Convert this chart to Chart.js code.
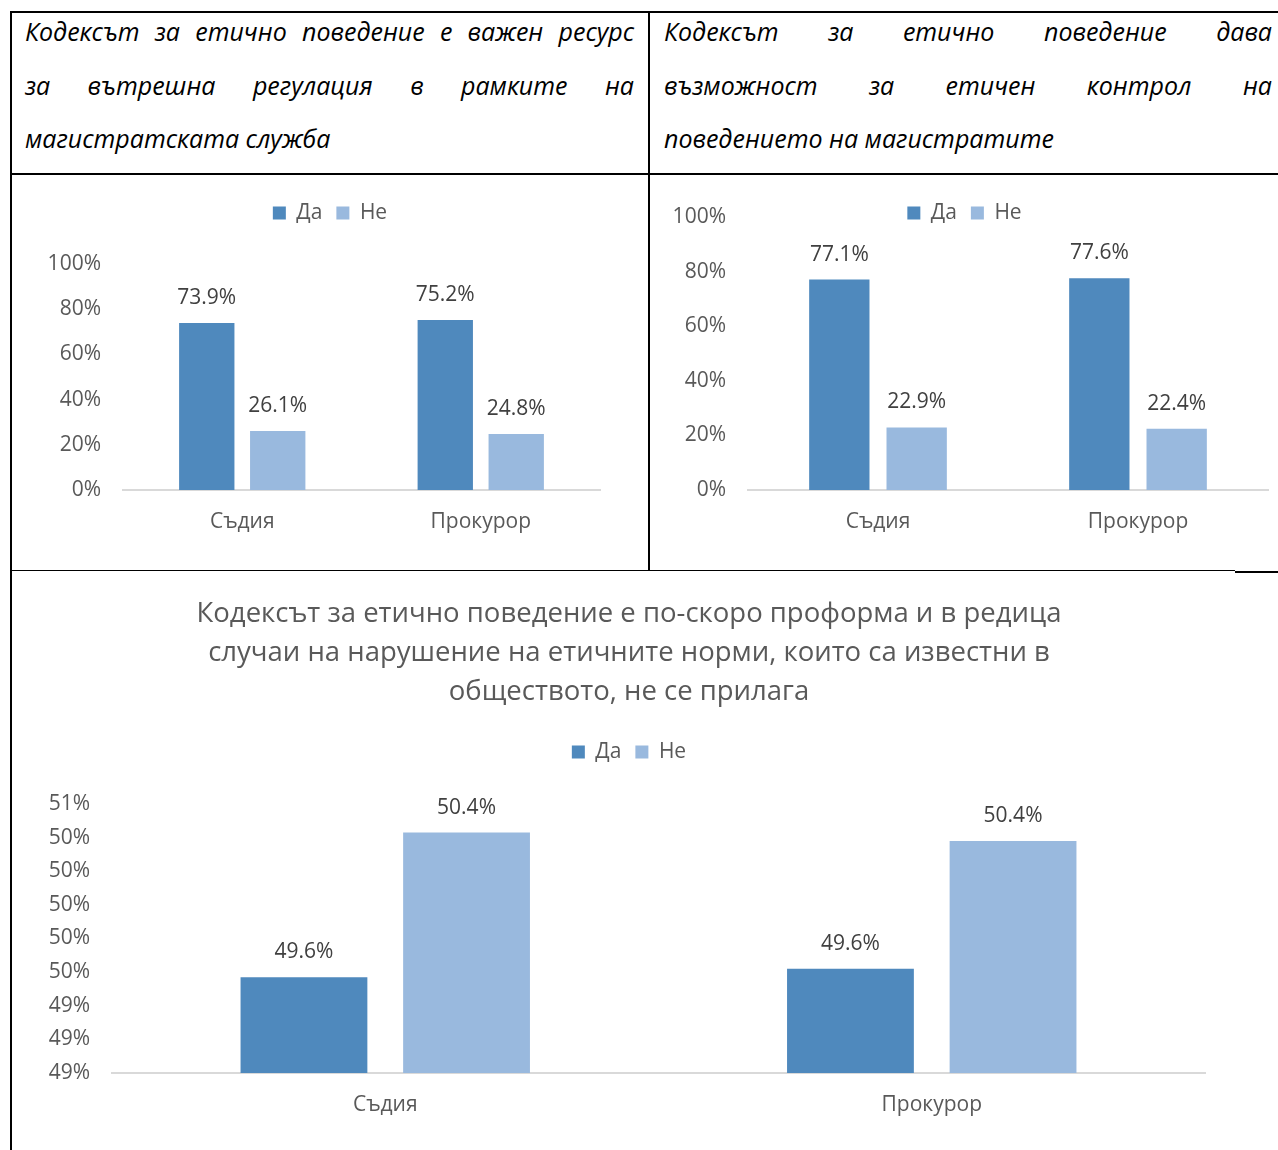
<!DOCTYPE html>
<html lang="bg">
<head>
<meta charset="utf-8">
<title>Кодекс за етично поведение</title>
<script src="https://cdn.jsdelivr.net/npm/chart.js@4.4.1/dist/chart.umd.min.js"></script>
<style>
  html, body { margin: 0; padding: 0; background: #fff; }
  body { width: 1278px; height: 1150px; position: relative; overflow: hidden; font-family: 'Open Sans', sans-serif; }
  .rule { position: absolute; background: #000; z-index: 2; }
  .head { position: absolute; top: 16px; width: 609px; font-style: italic; font-size: 25px; color: #000; }
  .head div { height: 53.5px; line-height: 30px; white-space: nowrap; }
  .head div.j { text-align: justify; text-align-last: justify; }
  .box { position: absolute; }
</style>
</head>
<body>

<div class="head" id="head1" style="left: 25px;"></div>
<div class="head" id="head2" style="left: 664px; width: 608px;"></div>

<div class="box" style="left: 12px; top: 175px; width: 636px; height: 395px;"><canvas id="resourceChart"></canvas></div>
<div class="box" style="left: 651px; top: 175px; width: 627px; height: 395px;"><canvas id="controlChart"></canvas></div>
<div class="box" style="left: 12px; top: 573px; width: 1234px; height: 577px;"><canvas id="proformaChart"></canvas></div>

<!-- table borders -->
<div class="rule" style="left: 10px; top: 11px; width: 1268px; height: 2px;"></div>
<div class="rule" style="left: 10px; top: 11px; width: 2px; height: 1139px;"></div>
<div class="rule" style="left: 648px; top: 11px; width: 2px; height: 560px;"></div>
<div class="rule" style="left: 10px; top: 173px; width: 1268px; height: 2px;"></div>
<div class="rule" style="left: 10px; top: 570px; width: 1225px; height: 1px;"></div>
<div class="rule" style="left: 1235px; top: 571px; width: 43px; height: 2px;"></div>

<script>
const categories = ['Съдия', 'Прокурор'];
const seriesNames = ['Да', 'Не'];

// Кодексът ... важен ресурс за вътрешна регулация
const resourceYes = [73.9, 75.2];
const resourceNo = [26.1, 24.8];

// Кодексът ... дава възможност за етичен контрол
const controlYes = [77.1, 77.6];
const controlNo = [22.9, 22.4];

// Кодексът ... е по-скоро проформа
const proformaYes = [49.57, 49.62];
const proformaNo = [50.43, 50.38];

const percentTicks = [0, 20, 40, 60, 80, 100];
const proformaTicks = [49.0, 49.2, 49.4, 49.6, 49.8, 50.0, 50.2, 50.4, 50.6];

const headLines1 = ['Кодексът за етично поведение е важен ресурс', 'за вътрешна регулация в рамките на', 'магистратската служба'];
const headLines2 = ['Кодексът за етично поведение дава', 'възможност за етичен контрол на', 'поведението на магистратите'];
const proformaTitle = [
  'Кодексът за етично поведение е по-скоро проформа и в редица',
  'случаи на нарушение на етичните норми, които са известни в',
  'обществото, не се прилага'
];

const yesColor = '#4f89bd';
const noColor = '#99b9de';

// header cells
function fillHead(id, lines) {
  const el = document.getElementById(id);
  lines.forEach((line, i) => {
    const d = document.createElement('div');
    d.textContent = line;
    if (i < lines.length - 1) d.className = 'j';
    el.appendChild(d);
  });
}
fillHead('head1', headLines1);
fillHead('head2', headLines2);

Chart.defaults.font.family = "'Open Sans', sans-serif";
Chart.defaults.color = '#595959';

// value labels above the bars
const barValueLabels = {
  id: 'barValueLabels',
  afterDatasetsDraw(chart) {
    const ctx = chart.ctx;
    ctx.save();
    ctx.font = "21px 'Open Sans', sans-serif";
    ctx.fillStyle = '#404040';
    ctx.textAlign = 'center';
    ctx.textBaseline = 'middle';
    chart.data.datasets.forEach((ds, i) => {
      chart.getDatasetMeta(i).data.forEach((bar, j) => {
        ctx.fillText(ds.data[j].toFixed(1) + '%', bar.x, bar.y - 25);
      });
    });
    ctx.restore();
  }
};

// fixed layout height for the legend box (like afterFit for scales),
// while still letting it draw its full row
function legendSpace(height) {
  return {
    id: 'legendSpace',
    afterInit(chart) {
      const fit = chart.legend.fit;
      chart.legend.fit = function() {
        fit.call(this);
        this._fullHeight = this.height;
        this.height = height;
      };
    },
    afterLayout(chart) {
      const lg = chart.legend;
      lg.bottom = lg.top + Math.max(lg.height, lg._fullHeight || 0);
    }
  };
}

function makeChart(id, yes, no, opt) {
  const ticks = opt.ticks;
  return new Chart(document.getElementById(id), {
    type: 'bar',
    data: {
      labels: categories,
      datasets: [
        { label: seriesNames[0], data: yes, backgroundColor: yesColor },
        { label: seriesNames[1], data: no, backgroundColor: noColor }
      ]
    },
    options: {
      responsive: true,
      maintainAspectRatio: false,
      animation: false,
      layout: { padding: { top: opt.padTop, right: 0, left: 0, bottom: 0 } },
      datasets: { bar: { categoryPercentage: 0.595, barPercentage: 0.78 } },
      scales: {
        x: {
          grid: { display: false, drawTicks: false },
          border: { color: '#d9d9d9', width: 2 },
          ticks: { color: '#595959', font: { size: 21 }, padding: 19.5 },
          // plot ends before the right edge, title and legend stay centred on the canvas
          afterFit: s => { s.height = opt.xHeight; s.paddingRight = opt.padRight; }
        },
        y: {
          min: ticks[0],
          max: ticks[ticks.length - 1],
          grid: { display: false, drawTicks: false },
          border: { display: false },
          afterBuildTicks: s => { s.ticks = ticks.map(v => ({ value: v })); },
          ticks: { color: '#595959', font: { size: 21 }, padding: 22, callback: opt.tickLabel },
          afterFit: s => { s.width = opt.yWidth; }
        }
      },
      plugins: {
        title: opt.title ? {
          display: true,
          text: opt.title,
          color: '#595959',
          font: { size: 27.5, weight: 'normal', lineHeight: '39px' },
          padding: { top: 21.5, bottom: 16 }
        } : { display: false },
        legend: {
          labels: { boxWidth: 13, boxHeight: 13, padding: 14, color: '#595959', font: { size: 21 } }
        },
        tooltip: { enabled: false }
      }
    },
    plugins: [barValueLabels, legendSpace(opt.legendHeight)]
  });
}

makeChart('resourceChart', resourceYes, resourceNo, {
  ticks: percentTicks, tickLabel: v => v + '%',
  padTop: 13.5, padRight: 48, yWidth: 111, xHeight: 80, legendHeight: 75.5
});

makeChart('controlChart', controlYes, controlNo, {
  ticks: percentTicks, tickLabel: v => v + '%',
  padTop: 13.5, padRight: 10, yWidth: 97, xHeight: 80, legendHeight: 28.5
});

makeChart('proformaChart', proformaYes, proformaNo, {
  ticks: proformaTicks, tickLabel: v => Math.round(v) + '%',
  title: proformaTitle,
  padTop: 0, padRight: 41, yWidth: 100, xHeight: 77, legendHeight: 76.5
});
</script>
</body>
</html>
